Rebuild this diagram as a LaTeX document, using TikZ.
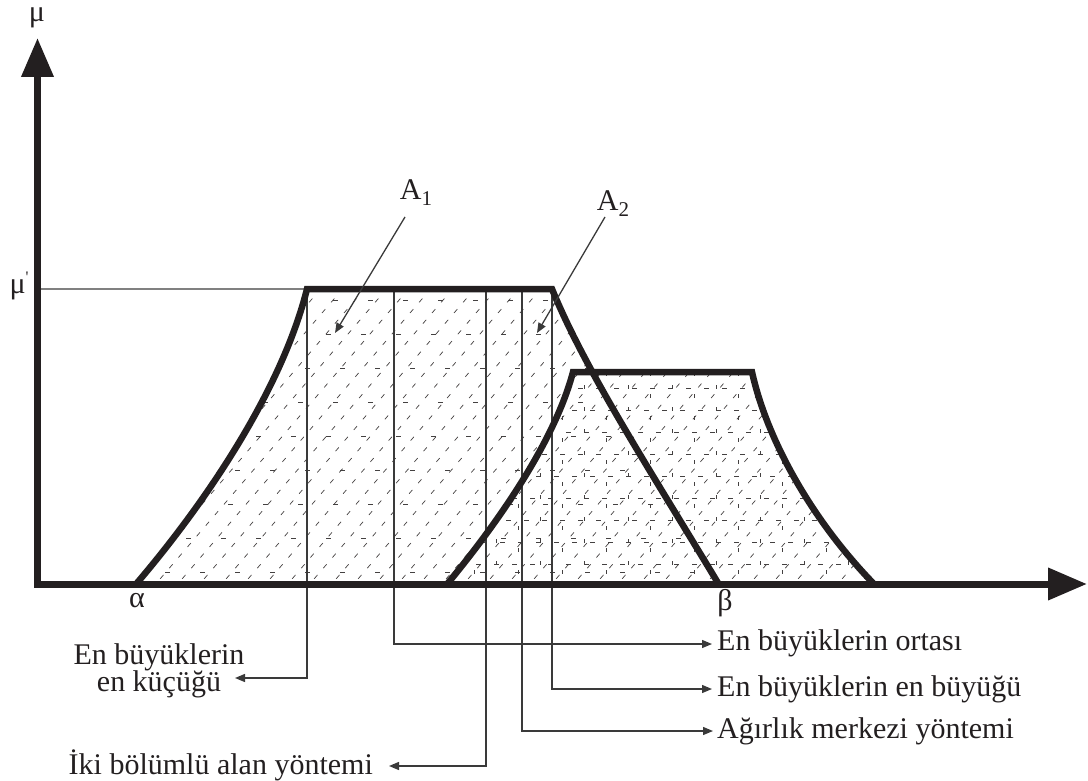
\documentclass[tikz,border=0pt]{standalone}
\usepackage{fontspec}
\setmainfont{Liberation Serif}
\usetikzlibrary{arrows.meta}
\definecolor{ink}{HTML}{231F20}
\definecolor{conncol}{HTML}{3A3A3A}
\begin{document}
\begin{tikzpicture}[x=1pt,y=-1pt,
  lbl/.style={inner sep=0pt, font=\fontsize{30}{27.5}\selectfont, text=ink},
  axis/.style={line width=7pt, draw=ink, -{Triangle[length=39pt,width=31pt]}},
  outline/.style={line width=6.5pt, draw=ink, line join=miter},
  conn/.style={line width=1.3pt, draw=conncol},
  connarrow/.style={conn, -{Triangle[length=10pt,width=8pt]}},
  hatch/.style={line width=0.7pt, draw=ink!85, dash pattern=on 5pt off 9pt},
  hatchh/.style={line width=0.7pt, draw=ink!85, dash pattern=on 5pt off 13pt},
  hatchv/.style={line width=0.7pt, draw=ink!85, dash pattern=on 4pt off 18pt}]
\useasboundingbox (0,0) rectangle (1088,781);

% hatching of both areas
\begin{scope}
  \clip (137,583) .. controls (212,495) and (283,385) .. (307,289) -- (552,289)
        .. controls (585,370) and (650,470) .. (718,583) -- cycle
        (448,583) .. controls (500,520) and (555,440) .. (573,372) -- (752,372)
        .. controls (767,440) and (812,520) .. (873,583) -- cycle;
  \foreach \x in {-320,-298,...,900} \draw[hatch] (\x,600) -- ++(300,-350);
\end{scope}
\begin{scope}
  \clip (448,583) .. controls (500,520) and (555,440) .. (573,372) -- (752,372)
        .. controls (767,440) and (812,520) .. (873,583) -- cycle;
  \foreach \y [count=\i] in {388,410,...,580} {
    \pgfmathsetmacro{\ph}{mod(\i,3)*6}
    \draw[hatchh, dash phase=\ph pt] (440,\y) -- (880,\y);
  }
  \foreach \x [count=\i] in {452,474,...,880} {
    \pgfmathsetmacro{\ph}{mod(\i,2)*9}
    \draw[hatchv, dash phase=\ph pt] (\x,372) -- (\x,583);
  }
\end{scope}
\begin{scope}
  \clip (137,583) .. controls (212,495) and (283,385) .. (307,289) -- (552,289)
        .. controls (585,370) and (650,470) .. (718,583) -- cycle;
  \foreach \y [count=\i] in {300,334,...,580} {
    \pgfmathsetmacro{\ph}{mod(\i,3)*7}
    \draw[hatchh, dash pattern=on 5pt off 30pt, dash phase=\ph pt] (130,\y) -- (720,\y);
  }
\end{scope}

% mu-prime level line
\coordinate (mlev) at (41,289);
\coordinate (t1) at (307,289);
\draw[line width=1.2pt, draw=black!50] (mlev) -- (t1);

% construction lines and their arrows
\coordinate (t2) at (394,289);
\coordinate (t3) at (486,289);
\coordinate (t4) at (522,289);
\coordinate (t5) at (552,289);

\node[lbl, align=center] (kucugu) at (159,671) {En büyüklerin\\en küçüğü};
\node[lbl, anchor=west] (ortasi) at (717,643) {En büyüklerin ortası};
\node[lbl, anchor=west] (buyugu) at (717,689) {En büyüklerin en büyüğü};
\node[lbl, anchor=west] (agirlik) at (717,731) {Ağırlık merkezi yöntemi};
\node[lbl, anchor=east] (iki) at (373,765) {İki bölümlü alan yöntemi};

\coordinate (e1) at (235,678);
\coordinate (e2) at (712,644);
\coordinate (e3) at (712,689);
\coordinate (e4) at (713,731);
\coordinate (e5) at (389,766);

\draw[connarrow] (t1) |- (e1);
\draw[connarrow] (t2) |- (e2);
\draw[connarrow] (t5) |- (e3);
\draw[connarrow] (t4) |- (e4);
\draw[connarrow] (t3) |- (e5);

% membership functions
\draw[outline] (137,583) .. controls (212,495) and (283,385) .. (307,289) -- (552,289)
        .. controls (585,370) and (650,470) .. (718,583);
\draw[outline] (448,583) .. controls (500,520) and (555,440) .. (573,372) -- (752,372)
        .. controls (767,440) and (812,520) .. (873,583);

% axes
\coordinate (O) at (37.5,587);
\coordinate (ytip) at (37.5,38);
\coordinate (O2) at (34,584);
\coordinate (xtip) at (1087,584);
\draw[axis] (O) -- (ytip);
\draw[axis] (O2) -- (xtip);

% labels
\node[lbl] (mu) at (37,18) {μ};
\node[lbl] (mup) at (19,286) {μ\raisebox{0.35em}{\fontsize{16}{16}\selectfont\textquotesingle}};
\node[lbl] (alpha) at (137,601) {α};
\node[lbl] (beta) at (725,603) {β};

\node[lbl] (A1) at (416,193) {A\raisebox{-0.2em}{\fontsize{21}{21}\selectfont 1}};
\node[lbl] (A2) at (613,204) {A\raisebox{-0.2em}{\fontsize{21}{21}\selectfont 2}};
\coordinate (a1s) at (405,217);
\coordinate (a1e) at (335,333);
\coordinate (a2s) at (605,217);
\coordinate (a2e) at (537,333);
\draw[connarrow] (a1s) -- (a1e);
\draw[connarrow] (a2s) -- (a2e);
\end{tikzpicture}
\end{document}
